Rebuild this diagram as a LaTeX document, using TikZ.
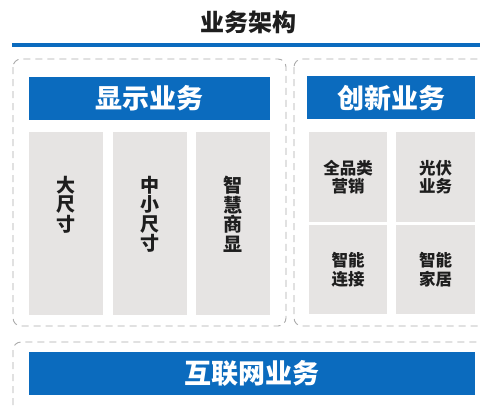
\documentclass[tikz,border=0pt]{standalone}
\usepackage{fontspec}
\newfontfamily\cjk{Noto Sans CJK SC}
\definecolor{hblue}{HTML}{0B6BBE}
\definecolor{cellgray}{HTML}{E6E4E3}
\definecolor{dashgray}{HTML}{ABABAB}
\definecolor{txt}{HTML}{1E1E1E}
\tikzset{
  grp/.style={draw=dashgray, dashed, dash pattern=on 7pt off 5pt, line width=0.9pt, rounded corners=8pt},
  hdr/.style={fill=hblue, draw=none, inner sep=0pt, text=white, font=\cjk\bfseries\fontsize{27}{29}\selectfont},
  cellbox/.style={fill=cellgray, draw=none, inner sep=0pt},
  vtext/.style={text=txt, align=center, inner sep=0pt, font=\cjk\bfseries\fontsize{19}{19.5}\selectfont},
  ctext/.style={text=txt, align=center, inner sep=0pt, font=\cjk\bfseries\fontsize{16.5}{18.5}\selectfont},
}
\begin{document}
\begin{tikzpicture}[x=1pt,y=-1pt]
\useasboundingbox (0,0) rectangle (480,405);
\fill[white] (0,0) rectangle (480,405);
% title
\node[text=txt, inner sep=0pt, font=\cjk\bfseries\fontsize{24}{26}\selectfont] (title) at (248,22) {业务架构};
\coordinate (lineL) at (12,45);
\coordinate (lineR) at (482,45);
\draw[hblue, line width=4pt] (lineL) -- (lineR);
% group boxes
\draw[grp] (13,59) rectangle (286,326);
\draw[grp] (294,59) rectangle (500,326);
\draw[grp] (13,342) rectangle (500,420);
% headers
\node[hdr, minimum width=241pt, minimum height=43pt, anchor=north west] (h1) at (29,77) {显示业务};
\node[hdr, minimum width=168pt, minimum height=43pt, anchor=north west] (h2) at (307,76) {创新业务};
\node[hdr, minimum width=446pt, minimum height=43pt, anchor=north west] (h3) at (29,352) {互联网业务};
% left columns
\node[cellbox, minimum width=74pt, minimum height=183pt, anchor=north west] (c1) at (29,132) {};
\node[cellbox, minimum width=74pt, minimum height=183pt, anchor=north west] (c2) at (113,132) {};
\node[cellbox, minimum width=74pt, minimum height=183pt, anchor=north west] (c3) at (196,132) {};
\node[vtext, anchor=north] (t1) at ([yshift=-44pt]c1.north) {大\\尺\\寸};
\node[vtext, anchor=north] (t2) at ([yshift=-44pt]c2.north) {中\\小\\尺\\寸};
\node[vtext, anchor=north] (t3) at ([yshift=-44pt]c3.north) {智\\慧\\商\\显};
% right grid
\node[cellbox, minimum width=78pt, minimum height=90pt, anchor=north west] (r1) at (309,132) {};
\node[cellbox, minimum width=79pt, minimum height=90pt, anchor=north west] (r2) at (396,132) {};
\node[cellbox, minimum width=78pt, minimum height=89pt, anchor=north west] (r3) at (309,225) {};
\node[cellbox, minimum width=79pt, minimum height=89pt, anchor=north west] (r4) at (396,225) {};
\node[ctext] (s1) at (r1.center) {全品类\\营销};
\node[ctext] (s2) at (r2.center) {光伏\\业务};
\node[ctext] (s3) at (r3.center) {智能\\连接};
\node[ctext] (s4) at (r4.center) {智能\\家居};
\end{tikzpicture}
\end{document}
